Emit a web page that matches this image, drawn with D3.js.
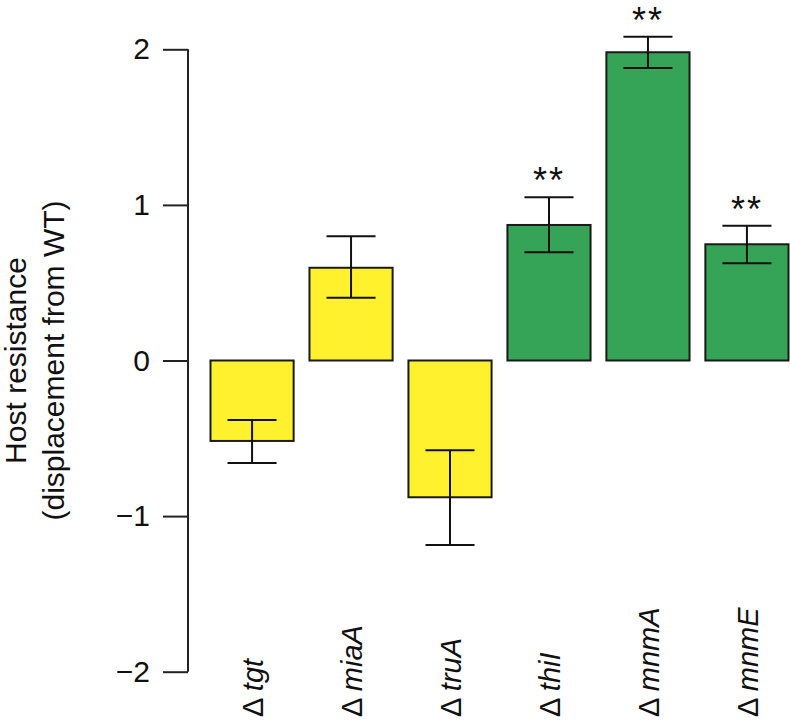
<!DOCTYPE html>
<html>
<head>
<meta charset="utf-8">
<script src="https://cdn.jsdelivr.net/npm/d3@7"></script>
<style>
  html, body { margin: 0; padding: 0; background: #ffffff; }
  svg { display: block; font-family: "Liberation Sans", Arial, Helvetica, sans-serif; }
</style>
</head>
<body>
<svg id="chart" width="790" height="721"></svg>
<script>
// ---- data ----
const genes = ["tgt", "miaA", "truA", "thiI", "mnmA", "mnmE"];
const means = [-0.517, 0.596, -0.879, 0.871, 1.981, 0.747];
const errLow = [-0.659, 0.404, -1.186, 0.695, 1.880, 0.625];
const errHigh = [-0.382, 0.798, -0.577, 1.049, 2.081, 0.866];
const groups = ["yellow", "yellow", "yellow", "green", "green", "green"];
const significance = ["", "", "", "**", "**", "**"];
const yTicks = [-2, -1, 0, 1, 2];
const yTitle = ["Host resistance", "(displacement from WT)"];

const colorMap = { yellow: "#FFF12E", green: "#36A457" };

const svg = d3.select("#chart");

const x = d3.scaleBand()
  .domain(genes)
  .range([210.5, 788.5])
  .paddingInner(0.16)
  .paddingOuter(0);

const y = d3.scaleLinear()
  .domain([-2, 2])
  .range([671.7, 49.3]);

// y axis
const axisX = 188;
const yAxis = d3.axisLeft(y)
  .tickValues(yTicks)
  .tickSize(25)
  .tickPadding(13)
  .tickFormat(d => d < 0 ? "\u2212" + Math.abs(d) : String(d));

const ga = svg.append("g")
  .attr("transform", `translate(${axisX},0)`)
  .call(yAxis);
ga.select(".domain").remove();
ga.append("line")
  .attr("x1", 0).attr("x2", 0)
  .attr("y1", y(2)).attr("y2", y(-2))
  .attr("stroke", "#222").attr("stroke-width", 2);
ga.selectAll(".tick line").attr("stroke", "#222").attr("stroke-width", 2);
ga.selectAll(".tick text")
  .attr("fill", "#111")
  .style("font-size", "30px")
  .style("font-family", "\"Liberation Sans\", Arial, sans-serif");

// y title
const titleG = svg.append("g");
titleG.append("text")
  .attr("transform", `translate(26,${y(0)}) rotate(-90)`)
  .attr("text-anchor", "middle")
  .style("font-size", "30px")
  .attr("fill", "#111")
  .text(yTitle[0]);
titleG.append("text")
  .attr("transform", `translate(64,${y(0)}) rotate(-90)`)
  .attr("text-anchor", "middle")
  .style("font-size", "30px")
  .attr("fill", "#111")
  .text(yTitle[1]);

// bars
const idx = d3.range(genes.length);
svg.append("g").selectAll("rect")
  .data(idx)
  .join("rect")
  .attr("x", i => x(genes[i]))
  .attr("width", x.bandwidth())
  .attr("y", i => y(Math.max(0, means[i])))
  .attr("height", i => Math.abs(y(means[i]) - y(0)))
  .attr("fill", i => colorMap[groups[i]])
  .attr("stroke", "#1a1a1a")
  .attr("stroke-width", 2);

// error bars
const capHalf = x.bandwidth() * 0.295;
const eg = svg.append("g").attr("stroke", "#111").attr("stroke-width", 2);
idx.forEach(i => {
  const cx = x(genes[i]) + x.bandwidth() / 2;
  eg.append("line").attr("x1", cx).attr("x2", cx)
    .attr("y1", y(errLow[i])).attr("y2", y(errHigh[i]));
  eg.append("line").attr("x1", cx - capHalf).attr("x2", cx + capHalf)
    .attr("y1", y(errLow[i])).attr("y2", y(errLow[i]));
  eg.append("line").attr("x1", cx - capHalf).attr("x2", cx + capHalf)
    .attr("y1", y(errHigh[i])).attr("y2", y(errHigh[i]));
});

// significance stars
svg.append("g").selectAll("text")
  .data(idx.filter(i => significance[i]))
  .join("text")
  .attr("x", i => x(genes[i]) + x.bandwidth() / 2)
  .attr("y", i => y(errHigh[i]) - 4)
  .attr("text-anchor", "middle")
  .style("font-size", "36px")
  .style("letter-spacing", "2px")
  .attr("fill", "#111")
  .text(i => significance[i]);

// category labels
const lg = svg.append("g");
idx.forEach(i => {
  const cx = x(genes[i]) + x.bandwidth() / 2;
  const t = lg.append("text")
    .attr("transform", `translate(${cx},717) rotate(-90)`)
    .attr("dy", "0.38em")
    .attr("text-anchor", "start")
    .style("font-size", "29px")
    .attr("fill", "#111");
  t.append("tspan").text("\u0394 ");
  t.append("tspan").style("font-style", "italic").text(genes[i]);
});
</script>
</body>
</html>
